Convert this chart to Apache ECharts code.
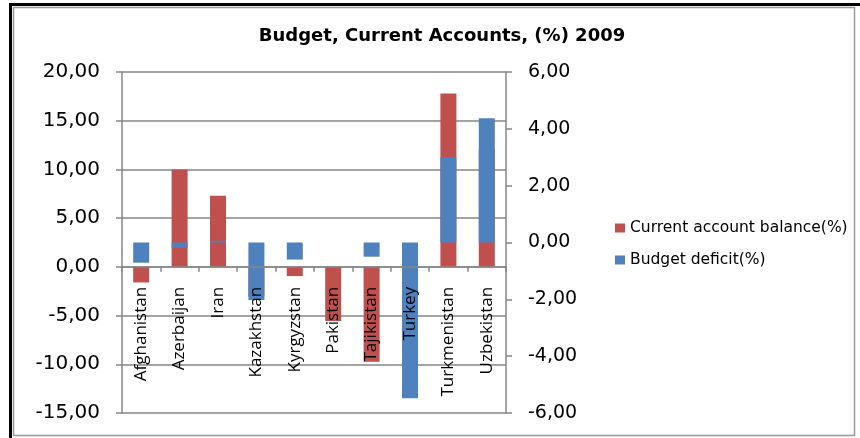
<!DOCTYPE html>
<html>
<head>
<meta charset="utf-8">
<script src="https://cdn.jsdelivr.net/npm/echarts@6/dist/echarts.min.js"></script>
<style>
html,body{margin:0;padding:0;background:#fff;}
#c{width:860px;height:438px;}
</style>
</head>
<body>
<div id="c"></div>
<script>
const categories = ['Afghanistan','Azerbaijan','Iran','Kazakhstan','Kyrgyzstan','Pakistan','Tajikistan','Turkey','Turkmenistan','Uzbekistan'];
const currentAccount = [-1.6, 10.0, 7.3, -3.0, -0.95, -5.55, -9.75, -2.2, 17.8, 12.1];
const budgetDeficit = [-0.71, -0.19, 0.06, -2.02, -0.6, null, -0.5, -5.48, 3.0, 4.37];
const leftTicks = {min: -15, max: 20, interval: 5};
const rightTicks = {min: -6, max: 6, interval: 2};

const fmt = v => v.toFixed(2).replace('.', ',');
const gray = '#868686';
const font = 'DejaVu Sans';

const gridTop = 72, gridBottom = 25, H = 438;
const gridH = H - gridTop - gridBottom;
// place category axis at the left axis' zero level
const zeroOffset = gridH * (0 - leftTicks.min) / (leftTicks.max - leftTicks.min);

const chart = echarts.init(document.getElementById('c'), null, {renderer: 'canvas'});
chart.setOption({
  animation: false,
  backgroundColor: '#fff',
  title: {
    text: 'Budget, Current Accounts, (%) 2009',
    left: 437, top: 22, textAlign: 'center',
    textStyle: {fontFamily: font, fontWeight: 'bold', fontSize: 18, color: '#000'}
  },
  legend: {
    orient: 'vertical', left: 610, top: 215, itemGap: 16,
    icon: 'rect', itemWidth: 10, itemHeight: 9,
    textStyle: {fontFamily: font, fontSize: 15.5, color: '#000'},
    data: ['Current account balance(%)', 'Budget deficit(%)']
  },
  grid: {left: 122, right: 354, top: gridTop, bottom: gridBottom, containLabel: false, outerBoundsMode: 'none'},
  xAxis: {
    type: 'category', data: categories, z: 10, position: 'bottom', offset: -zeroOffset,
    axisLine: {onZero: false, lineStyle: {color: gray, width: 1.5}},
    axisTick: {show: true, length: 5, alignWithLabel: false, lineStyle: {color: gray, width: 1.5}},
    axisLabel: {rotate: 90, margin: 20, fontFamily: 'Open Sans', fontSize: 17, color: '#000', interval: 0}
  },
  yAxis: [
    {
      type: 'value', position: 'left',
      min: leftTicks.min, max: leftTicks.max, interval: leftTicks.interval,
      axisLine: {show: true, lineStyle: {color: gray, width: 1.5}},
      axisTick: {show: true, length: 6, lineStyle: {color: gray, width: 1.5}},
      splitLine: {show: true, lineStyle: {color: gray, width: 1.5}},
      axisLabel: {formatter: fmt, margin: 22, fontFamily: font, fontSize: 20, color: '#000'}
    },
    {
      type: 'value', position: 'right',
      min: rightTicks.min, max: rightTicks.max, interval: rightTicks.interval,
      axisLine: {show: true, lineStyle: {color: gray, width: 1.5}},
      axisTick: {show: true, length: 6, lineStyle: {color: gray, width: 1.5}},
      splitLine: {show: false},
      axisLabel: {formatter: fmt, margin: 22, fontFamily: font, fontSize: 19, color: '#000'}
    }
  ],
  series: [
    {
      name: 'Current account balance(%)', type: 'bar', yAxisIndex: 0,
      data: currentAccount, barWidth: 16, barGap: '-100%',
      itemStyle: {color: '#C0504D'}
    },
    {
      name: 'Budget deficit(%)', type: 'bar', yAxisIndex: 1,
      data: budgetDeficit, barWidth: 16, barGap: '-100%',
      itemStyle: {color: '#4F81BD'}
    }
  ],
  graphic: [
    {type: 'rect', shape: {x: 9, y: 3, width: 3, height: 435}, style: {fill: '#000'}, silent: true},
    {type: 'rect', shape: {x: 9, y: 3, width: 851, height: 3}, style: {fill: '#000'}, silent: true},
    {type: 'rect', shape: {x: 13.5, y: 7.5, width: 841, height: 428}, style: {fill: null, stroke: '#999', lineWidth: 1.5}, silent: true}
  ]
});
</script>
</body>
</html>
